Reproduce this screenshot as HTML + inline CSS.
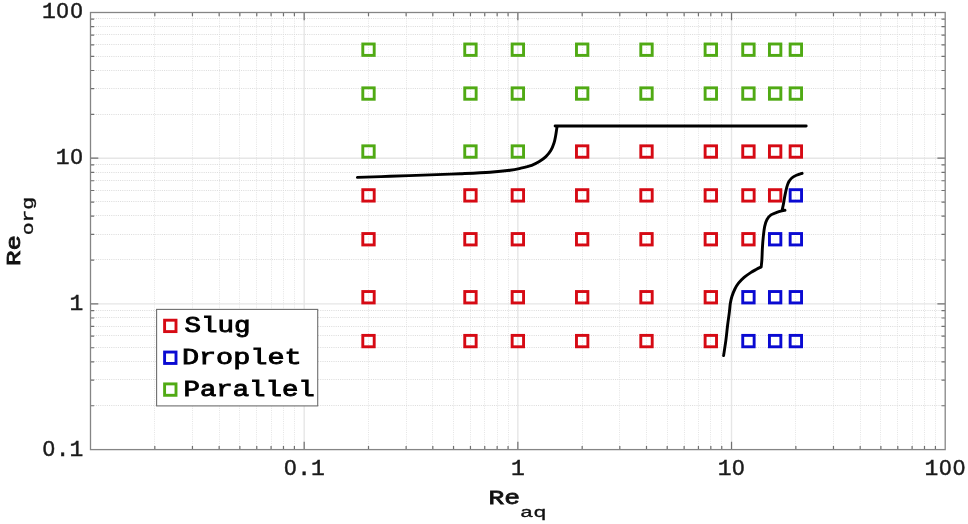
<!DOCTYPE html><html><head><meta charset="utf-8"><title>Flow regime map</title><style>html,body{margin:0;padding:0;background:#fff;overflow:hidden}svg{display:block;will-change:transform}</style></head><body>
<svg width="968" height="524" viewBox="0 0 968 524">
<rect width="968" height="524" fill="#fff"/>
<path d="M154.50 14.00V449.60M192.50 14.00V449.60M219.50 14.00V449.60M239.50 14.00V449.60M256.50 14.00V449.60M271.50 14.00V449.60M283.50 14.00V449.60M294.50 14.00V449.60M368.50 14.00V449.60M406.50 14.00V449.60M432.50 14.00V449.60M453.50 14.00V449.60M470.50 14.00V449.60M484.50 14.00V449.60M497.50 14.00V449.60M508.50 14.00V449.60M582.50 14.00V449.60M619.50 14.00V449.60M646.50 14.00V449.60M667.50 14.00V449.60M684.50 14.00V449.60M698.50 14.00V449.60M710.50 14.00V449.60M721.50 14.00V449.60M795.50 14.00V449.60M833.50 14.00V449.60M860.50 14.00V449.60M880.50 14.00V449.60M897.50 14.00V449.60M912.50 14.00V449.60M924.50 14.00V449.60M935.50 14.00V449.60" stroke="#e5e5e5" stroke-width="1" stroke-dasharray="1 1.2" fill="none"/>
<path d="M91.50 405.50H945.20M91.50 379.50H945.20M91.50 361.50H945.20M91.50 347.50H945.20M91.50 335.50H945.20M91.50 326.50H945.20M91.50 317.50H945.20M91.50 310.50H945.20M91.50 259.50H945.20M91.50 234.50H945.20M91.50 215.50H945.20M91.50 201.50H945.20M91.50 190.50H945.20M91.50 180.50H945.20M91.50 172.50H945.20M91.50 164.50H945.20M91.50 114.50H945.20M91.50 88.50H945.20M91.50 70.50H945.20M91.50 56.50H945.20M91.50 44.50H945.20M91.50 34.50H945.20M91.50 26.50H945.20M91.50 18.50H945.20" stroke="#dbdbdb" stroke-width="1" stroke-dasharray="1 1.2" fill="none"/>
<path d="M304.18 12.50V449.60M517.85 12.50V449.60M731.53 12.50V449.60M90.50 303.90H945.20M90.50 158.20H945.20" stroke="#e6e6e6" stroke-width="1.4" fill="none"/>
<path d="M154.82 449.60v-3.7M154.82 12.50v3.7M192.45 449.60v-3.7M192.45 12.50v3.7M219.15 449.60v-3.7M219.15 12.50v3.7M239.85 449.60v-3.7M239.85 12.50v3.7M256.77 449.60v-3.7M256.77 12.50v3.7M271.08 449.60v-3.7M271.08 12.50v3.7M283.47 449.60v-3.7M283.47 12.50v3.7M294.40 449.60v-3.7M294.40 12.50v3.7M304.18 449.60v-7.8M304.18 12.50v7.8M368.50 449.60v-3.7M368.50 12.50v3.7M406.12 449.60v-3.7M406.12 12.50v3.7M432.82 449.60v-3.7M432.82 12.50v3.7M453.53 449.60v-3.7M453.53 12.50v3.7M470.45 449.60v-3.7M470.45 12.50v3.7M484.75 449.60v-3.7M484.75 12.50v3.7M497.14 449.60v-3.7M497.14 12.50v3.7M508.07 449.60v-3.7M508.07 12.50v3.7M517.85 449.60v-7.8M517.85 12.50v7.8M582.17 449.60v-3.7M582.17 12.50v3.7M619.80 449.60v-3.7M619.80 12.50v3.7M646.50 449.60v-3.7M646.50 12.50v3.7M667.20 449.60v-3.7M667.20 12.50v3.7M684.12 449.60v-3.7M684.12 12.50v3.7M698.43 449.60v-3.7M698.43 12.50v3.7M710.82 449.60v-3.7M710.82 12.50v3.7M721.75 449.60v-3.7M721.75 12.50v3.7M731.53 449.60v-7.8M731.53 12.50v7.8M795.85 449.60v-3.7M795.85 12.50v3.7M833.47 449.60v-3.7M833.47 12.50v3.7M860.17 449.60v-3.7M860.17 12.50v3.7M880.88 449.60v-3.7M880.88 12.50v3.7M897.80 449.60v-3.7M897.80 12.50v3.7M912.10 449.60v-3.7M912.10 12.50v3.7M924.49 449.60v-3.7M924.49 12.50v3.7M935.42 449.60v-3.7M935.42 12.50v3.7M90.50 405.74h3.7M945.20 405.74h-3.7M90.50 380.08h3.7M945.20 380.08h-3.7M90.50 361.88h3.7M945.20 361.88h-3.7M90.50 347.76h3.7M945.20 347.76h-3.7M90.50 336.22h3.7M945.20 336.22h-3.7M90.50 326.47h3.7M945.20 326.47h-3.7M90.50 318.02h3.7M945.20 318.02h-3.7M90.50 310.57h3.7M945.20 310.57h-3.7M90.50 303.90h7.8M945.20 303.90h-7.8M90.50 260.04h3.7M945.20 260.04h-3.7M90.50 234.38h3.7M945.20 234.38h-3.7M90.50 216.18h3.7M945.20 216.18h-3.7M90.50 202.06h3.7M945.20 202.06h-3.7M90.50 190.52h3.7M945.20 190.52h-3.7M90.50 180.77h3.7M945.20 180.77h-3.7M90.50 172.32h3.7M945.20 172.32h-3.7M90.50 164.87h3.7M945.20 164.87h-3.7M90.50 158.20h7.8M945.20 158.20h-7.8M90.50 114.34h3.7M945.20 114.34h-3.7M90.50 88.68h3.7M945.20 88.68h-3.7M90.50 70.48h3.7M945.20 70.48h-3.7M90.50 56.36h3.7M945.20 56.36h-3.7M90.50 44.82h3.7M945.20 44.82h-3.7M90.50 35.07h3.7M945.20 35.07h-3.7M90.50 26.62h3.7M945.20 26.62h-3.7M90.50 19.17h3.7M945.20 19.17h-3.7" stroke="#707070" stroke-width="1.2" fill="none"/>
<rect x="90.50" y="12.50" width="854.70" height="437.10" stroke="#858585" stroke-width="1.3" fill="none"/>
<rect x="362.80" y="43.99" width="11.40" height="11.40" fill="none" stroke="#50aa14" stroke-width="2.9"/>
<rect x="464.75" y="43.99" width="11.40" height="11.40" fill="none" stroke="#50aa14" stroke-width="2.9"/>
<rect x="512.15" y="43.99" width="11.40" height="11.40" fill="none" stroke="#50aa14" stroke-width="2.9"/>
<rect x="576.47" y="43.99" width="11.40" height="11.40" fill="none" stroke="#50aa14" stroke-width="2.9"/>
<rect x="640.80" y="43.99" width="11.40" height="11.40" fill="none" stroke="#50aa14" stroke-width="2.9"/>
<rect x="705.12" y="43.99" width="11.40" height="11.40" fill="none" stroke="#50aa14" stroke-width="2.9"/>
<rect x="742.74" y="43.99" width="11.40" height="11.40" fill="none" stroke="#50aa14" stroke-width="2.9"/>
<rect x="769.44" y="43.99" width="11.40" height="11.40" fill="none" stroke="#50aa14" stroke-width="2.9"/>
<rect x="790.15" y="43.99" width="11.40" height="11.40" fill="none" stroke="#50aa14" stroke-width="2.9"/>
<rect x="362.80" y="87.85" width="11.40" height="11.40" fill="none" stroke="#50aa14" stroke-width="2.9"/>
<rect x="464.75" y="87.85" width="11.40" height="11.40" fill="none" stroke="#50aa14" stroke-width="2.9"/>
<rect x="512.15" y="87.85" width="11.40" height="11.40" fill="none" stroke="#50aa14" stroke-width="2.9"/>
<rect x="576.47" y="87.85" width="11.40" height="11.40" fill="none" stroke="#50aa14" stroke-width="2.9"/>
<rect x="640.80" y="87.85" width="11.40" height="11.40" fill="none" stroke="#50aa14" stroke-width="2.9"/>
<rect x="705.12" y="87.85" width="11.40" height="11.40" fill="none" stroke="#50aa14" stroke-width="2.9"/>
<rect x="742.74" y="87.85" width="11.40" height="11.40" fill="none" stroke="#50aa14" stroke-width="2.9"/>
<rect x="769.44" y="87.85" width="11.40" height="11.40" fill="none" stroke="#50aa14" stroke-width="2.9"/>
<rect x="790.15" y="87.85" width="11.40" height="11.40" fill="none" stroke="#50aa14" stroke-width="2.9"/>
<rect x="362.80" y="145.83" width="11.40" height="11.40" fill="none" stroke="#50aa14" stroke-width="2.9"/>
<rect x="464.75" y="145.83" width="11.40" height="11.40" fill="none" stroke="#50aa14" stroke-width="2.9"/>
<rect x="512.15" y="145.83" width="11.40" height="11.40" fill="none" stroke="#50aa14" stroke-width="2.9"/>
<rect x="576.47" y="145.83" width="11.40" height="11.40" fill="none" stroke="#d60a14" stroke-width="2.9"/>
<rect x="640.80" y="145.83" width="11.40" height="11.40" fill="none" stroke="#d60a14" stroke-width="2.9"/>
<rect x="705.12" y="145.83" width="11.40" height="11.40" fill="none" stroke="#d60a14" stroke-width="2.9"/>
<rect x="742.74" y="145.83" width="11.40" height="11.40" fill="none" stroke="#d60a14" stroke-width="2.9"/>
<rect x="769.44" y="145.83" width="11.40" height="11.40" fill="none" stroke="#d60a14" stroke-width="2.9"/>
<rect x="790.15" y="145.83" width="11.40" height="11.40" fill="none" stroke="#d60a14" stroke-width="2.9"/>
<rect x="362.80" y="189.69" width="11.40" height="11.40" fill="none" stroke="#d60a14" stroke-width="2.9"/>
<rect x="464.75" y="189.69" width="11.40" height="11.40" fill="none" stroke="#d60a14" stroke-width="2.9"/>
<rect x="512.15" y="189.69" width="11.40" height="11.40" fill="none" stroke="#d60a14" stroke-width="2.9"/>
<rect x="576.47" y="189.69" width="11.40" height="11.40" fill="none" stroke="#d60a14" stroke-width="2.9"/>
<rect x="640.80" y="189.69" width="11.40" height="11.40" fill="none" stroke="#d60a14" stroke-width="2.9"/>
<rect x="705.12" y="189.69" width="11.40" height="11.40" fill="none" stroke="#d60a14" stroke-width="2.9"/>
<rect x="742.74" y="189.69" width="11.40" height="11.40" fill="none" stroke="#d60a14" stroke-width="2.9"/>
<rect x="769.44" y="189.69" width="11.40" height="11.40" fill="none" stroke="#d60a14" stroke-width="2.9"/>
<rect x="790.15" y="189.69" width="11.40" height="11.40" fill="none" stroke="#0a0ad2" stroke-width="2.9"/>
<rect x="362.80" y="233.55" width="11.40" height="11.40" fill="none" stroke="#d60a14" stroke-width="2.9"/>
<rect x="464.75" y="233.55" width="11.40" height="11.40" fill="none" stroke="#d60a14" stroke-width="2.9"/>
<rect x="512.15" y="233.55" width="11.40" height="11.40" fill="none" stroke="#d60a14" stroke-width="2.9"/>
<rect x="576.47" y="233.55" width="11.40" height="11.40" fill="none" stroke="#d60a14" stroke-width="2.9"/>
<rect x="640.80" y="233.55" width="11.40" height="11.40" fill="none" stroke="#d60a14" stroke-width="2.9"/>
<rect x="705.12" y="233.55" width="11.40" height="11.40" fill="none" stroke="#d60a14" stroke-width="2.9"/>
<rect x="742.74" y="233.55" width="11.40" height="11.40" fill="none" stroke="#d60a14" stroke-width="2.9"/>
<rect x="769.44" y="233.55" width="11.40" height="11.40" fill="none" stroke="#0a0ad2" stroke-width="2.9"/>
<rect x="790.15" y="233.55" width="11.40" height="11.40" fill="none" stroke="#0a0ad2" stroke-width="2.9"/>
<rect x="362.80" y="291.53" width="11.40" height="11.40" fill="none" stroke="#d60a14" stroke-width="2.9"/>
<rect x="464.75" y="291.53" width="11.40" height="11.40" fill="none" stroke="#d60a14" stroke-width="2.9"/>
<rect x="512.15" y="291.53" width="11.40" height="11.40" fill="none" stroke="#d60a14" stroke-width="2.9"/>
<rect x="576.47" y="291.53" width="11.40" height="11.40" fill="none" stroke="#d60a14" stroke-width="2.9"/>
<rect x="640.80" y="291.53" width="11.40" height="11.40" fill="none" stroke="#d60a14" stroke-width="2.9"/>
<rect x="705.12" y="291.53" width="11.40" height="11.40" fill="none" stroke="#d60a14" stroke-width="2.9"/>
<rect x="742.74" y="291.53" width="11.40" height="11.40" fill="none" stroke="#0a0ad2" stroke-width="2.9"/>
<rect x="769.44" y="291.53" width="11.40" height="11.40" fill="none" stroke="#0a0ad2" stroke-width="2.9"/>
<rect x="790.15" y="291.53" width="11.40" height="11.40" fill="none" stroke="#0a0ad2" stroke-width="2.9"/>
<rect x="362.80" y="335.39" width="11.40" height="11.40" fill="none" stroke="#d60a14" stroke-width="2.9"/>
<rect x="464.75" y="335.39" width="11.40" height="11.40" fill="none" stroke="#d60a14" stroke-width="2.9"/>
<rect x="512.15" y="335.39" width="11.40" height="11.40" fill="none" stroke="#d60a14" stroke-width="2.9"/>
<rect x="576.47" y="335.39" width="11.40" height="11.40" fill="none" stroke="#d60a14" stroke-width="2.9"/>
<rect x="640.80" y="335.39" width="11.40" height="11.40" fill="none" stroke="#d60a14" stroke-width="2.9"/>
<rect x="705.12" y="335.39" width="11.40" height="11.40" fill="none" stroke="#d60a14" stroke-width="2.9"/>
<rect x="742.74" y="335.39" width="11.40" height="11.40" fill="none" stroke="#0a0ad2" stroke-width="2.9"/>
<rect x="769.44" y="335.39" width="11.40" height="11.40" fill="none" stroke="#0a0ad2" stroke-width="2.9"/>
<rect x="790.15" y="335.39" width="11.40" height="11.40" fill="none" stroke="#0a0ad2" stroke-width="2.9"/>
<path d="M357.40 177.40C362.83 177.22 377.90 176.72 390.00 176.30C402.10 175.88 418.33 175.33 430.00 174.90C441.67 174.47 450.00 174.15 460.00 173.70C470.00 173.25 481.67 172.77 490.00 172.20C498.33 171.63 504.85 170.97 510.00 170.30C515.15 169.63 517.28 169.03 520.90 168.20C524.52 167.37 528.63 166.42 531.70 165.30C534.77 164.18 536.93 162.95 539.30 161.50C541.67 160.05 543.98 158.42 545.90 156.60C547.82 154.78 549.45 152.87 550.80 150.60C552.15 148.33 553.18 145.53 554.00 143.00C554.82 140.47 555.25 137.75 555.70 135.40C556.15 133.05 556.43 130.43 556.70 128.90C556.97 127.37 557.20 126.65 557.30 126.20M555.1 126L806.2 126" stroke="#000" stroke-width="2.9" fill="none" stroke-linecap="round" stroke-linejoin="round"/>
<path d="M723.60 355.60C723.98 353.02 725.23 345.17 725.90 340.10C726.57 335.03 727.03 329.78 727.60 325.20C728.17 320.62 728.85 316.20 729.30 312.60C729.75 309.00 729.87 306.28 730.30 303.60C730.73 300.92 731.13 298.93 731.90 296.50C732.67 294.07 733.80 291.22 734.90 289.00C736.00 286.78 736.97 285.13 738.50 283.20C740.03 281.27 742.07 279.17 744.10 277.40C746.13 275.63 748.63 273.95 750.70 272.60C752.77 271.25 754.75 270.25 756.50 269.30C758.25 268.35 760.42 267.30 761.20 266.90L761.20 266.90C761.32 265.68 761.70 262.73 761.90 259.60C762.10 256.47 762.17 251.92 762.40 248.10C762.63 244.28 762.92 240.32 763.30 236.70C763.68 233.08 764.08 229.27 764.70 226.40C765.32 223.53 765.95 221.42 767.00 219.50C768.05 217.58 769.37 216.08 771.00 214.90C772.63 213.72 774.98 213.07 776.80 212.40C778.62 211.73 780.53 211.25 781.90 210.90C783.27 210.55 784.48 210.40 785.00 210.30L782.2 209.8C782.40 208.87 782.95 206.57 783.40 204.20C783.85 201.83 784.33 198.43 784.90 195.60C785.47 192.77 786.15 189.50 786.80 187.20C787.45 184.90 787.97 183.33 788.80 181.80C789.63 180.27 790.53 179.08 791.80 178.00C793.07 176.92 794.68 176.08 796.40 175.30C798.12 174.52 801.15 173.63 802.10 173.30" stroke="#000" stroke-width="2.9" fill="none" stroke-linecap="round" stroke-linejoin="round"/>
<text x="290.38" y="475.40" text-anchor="middle" font-family="Liberation Sans" font-size="21.8" fill="#1a1a1a" stroke="#1a1a1a" stroke-width="0.5">0</text><text transform="translate(304.18 475.40) scale(1 0.97)" text-anchor="middle" font-family="Liberation Mono" font-size="23" fill="#1a1a1a" stroke="#1a1a1a" stroke-width="0.5">.</text><text transform="translate(317.98 475.40) scale(1 0.97)" text-anchor="middle" font-family="Liberation Mono" font-size="23" fill="#1a1a1a" stroke="#1a1a1a" stroke-width="0.5">1</text>
<text transform="translate(517.85 475.40) scale(1 0.97)" text-anchor="middle" font-family="Liberation Mono" font-size="23" fill="#1a1a1a" stroke="#1a1a1a" stroke-width="0.5">1</text>
<text transform="translate(724.62 475.40) scale(1 0.97)" text-anchor="middle" font-family="Liberation Mono" font-size="23" fill="#1a1a1a" stroke="#1a1a1a" stroke-width="0.5">1</text><text x="738.43" y="475.40" text-anchor="middle" font-family="Liberation Sans" font-size="21.8" fill="#1a1a1a" stroke="#1a1a1a" stroke-width="0.5">0</text>
<text transform="translate(931.40 475.40) scale(1 0.97)" text-anchor="middle" font-family="Liberation Mono" font-size="23" fill="#1a1a1a" stroke="#1a1a1a" stroke-width="0.5">1</text><text x="945.20" y="475.40" text-anchor="middle" font-family="Liberation Sans" font-size="21.8" fill="#1a1a1a" stroke="#1a1a1a" stroke-width="0.5">0</text><text x="959.00" y="475.40" text-anchor="middle" font-family="Liberation Sans" font-size="21.8" fill="#1a1a1a" stroke="#1a1a1a" stroke-width="0.5">0</text>
<text transform="translate(48.85 18.00) scale(1 0.97)" text-anchor="middle" font-family="Liberation Mono" font-size="23" fill="#1a1a1a" stroke="#1a1a1a" stroke-width="0.5">1</text><text x="62.65" y="18.00" text-anchor="middle" font-family="Liberation Sans" font-size="21.8" fill="#1a1a1a" stroke="#1a1a1a" stroke-width="0.5">0</text><text x="76.45" y="18.00" text-anchor="middle" font-family="Liberation Sans" font-size="21.8" fill="#1a1a1a" stroke="#1a1a1a" stroke-width="0.5">0</text>
<text transform="translate(62.65 163.80) scale(1 0.97)" text-anchor="middle" font-family="Liberation Mono" font-size="23" fill="#1a1a1a" stroke="#1a1a1a" stroke-width="0.5">1</text><text x="76.45" y="163.80" text-anchor="middle" font-family="Liberation Sans" font-size="21.8" fill="#1a1a1a" stroke="#1a1a1a" stroke-width="0.5">0</text>
<text transform="translate(76.45 309.60) scale(1 0.97)" text-anchor="middle" font-family="Liberation Mono" font-size="23" fill="#1a1a1a" stroke="#1a1a1a" stroke-width="0.5">1</text>
<text x="48.85" y="455.90" text-anchor="middle" font-family="Liberation Sans" font-size="21.8" fill="#1a1a1a" stroke="#1a1a1a" stroke-width="0.5">0</text><text transform="translate(62.65 455.90) scale(1 0.97)" text-anchor="middle" font-family="Liberation Mono" font-size="23" fill="#1a1a1a" stroke="#1a1a1a" stroke-width="0.5">.</text><text transform="translate(76.45 455.90) scale(1 0.97)" text-anchor="middle" font-family="Liberation Mono" font-size="23" fill="#1a1a1a" stroke="#1a1a1a" stroke-width="0.5">1</text>
<rect x="156.6" y="309.4" width="161.1" height="96.5" fill="#fff" stroke="#6e6e6e" stroke-width="1.1"/>
<rect x="164.60" y="320.20" width="11.40" height="11.40" fill="none" stroke="#d60a14" stroke-width="2.9"/>
<rect x="164.60" y="352.05" width="11.40" height="11.40" fill="none" stroke="#0a0ad2" stroke-width="2.9"/>
<rect x="164.60" y="383.90" width="11.40" height="11.40" fill="none" stroke="#50aa14" stroke-width="2.9"/>
<text transform="translate(184.59 331.95) scale(1 0.772)" font-family="Liberation Mono" font-weight="normal" font-size="27.50" fill="#000" stroke="#000" stroke-width="1.1">Slug</text>
<text transform="translate(181.89 364.35) scale(1 0.745)" font-family="Liberation Mono" font-weight="normal" font-size="28.53" fill="#000" stroke="#000" stroke-width="1.1">Droplet</text>
<text transform="translate(183.49 395.55) scale(1 0.777)" font-family="Liberation Mono" font-weight="normal" font-size="27.35" fill="#000" stroke="#000" stroke-width="1.1">Parallel</text>
<text transform="translate(488.52 504.00) scale(1 0.754)" font-family="Liberation Mono" font-weight="normal" font-size="26.35" fill="#111" stroke="#111" stroke-width="1.0">Re</text>
<text transform="translate(520.04 517.17) scale(1 0.698)" font-family="Liberation Mono" font-weight="normal" font-size="22.23" fill="#111" stroke="#111" stroke-width="0.45">aq</text>
<g transform="translate(0 0) rotate(-90)">
<text transform="translate(-265.95 20.30) scale(1 0.803)" font-family="Liberation Mono" font-weight="normal" font-size="25.87" fill="#111" stroke="#111" stroke-width="1.0">Re</text>
<text transform="translate(-235.33 33.38) scale(1 0.760)" font-family="Liberation Mono" font-weight="normal" font-size="21.41" fill="#111" stroke="#111" stroke-width="0.45">org</text>
</g>
</svg></body></html>
